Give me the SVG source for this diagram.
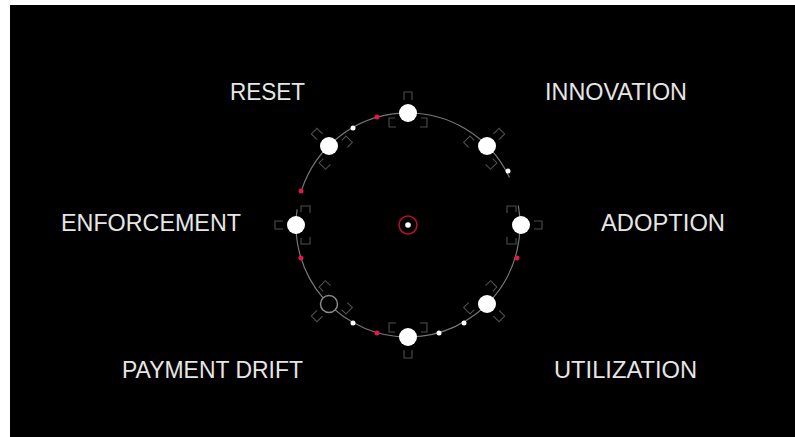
<svg xmlns="http://www.w3.org/2000/svg" xmlns:xlink="http://www.w3.org/1999/xlink" width="795" height="437" viewBox="0 0 795 437">
<style>
.lbl{font-family:"Liberation Sans","Noto Sans",Arial,sans-serif;font-size:24px;fill:#e6e6e6;}
.node{fill:#ffffff;}
.hollow{fill:#000;stroke:#8a8a8a;stroke-width:1.5;}
.br{fill:none;stroke:#4e4e4e;stroke-width:1.1;}
.ring{fill:none;stroke:#777777;stroke-width:1.2;}
.dw{fill:#ffffff;}
.dr{fill:#e0184a;}
</style>
<defs>
<g id="brk">
<path class="br" d="M-4,-13 L-4,-21 L4,-21 L4,-13"/>
<path class="br" d="M-13,5 L-19,5 L-19,14 L-12,14"/>
<path class="br" d="M13,5 L19,5 L19,14 L12,14"/>
</g>
</defs>
<rect x="0" y="0" width="795" height="437" fill="#ffffff"/>
<rect x="10" y="5" width="785" height="432" fill="#000000"/>
<g id="connectors">
<path class="ring" d="M518.3,205.5 A112,112 0 1 1 297.1,209.4"/>
<path class="ring" d="M301.5,190.4 A112,112 0 0 1 509.5,177.6"/>
<circle class="dw" cx="353" cy="128" r="2.5"/>
<circle class="dr" cx="377" cy="117" r="2.5"/>
<circle class="dw" cx="508" cy="171" r="2.5"/>
<circle class="dr" cx="301" cy="191" r="2.5"/>
<circle class="dr" cx="301" cy="258" r="2.5"/>
<circle class="dr" cx="517" cy="258" r="2.5"/>
<circle class="dr" cx="377" cy="333" r="2.5"/>
<circle class="dw" cx="439" cy="333" r="2.5"/>
<circle class="dw" cx="464" cy="323" r="2.5"/>
<circle class="dw" cx="353" cy="323" r="2.5"/>
</g>
<g id="center">
<circle cx="408" cy="225" r="9" fill="none" stroke="#b0102e" stroke-width="1.6"/>
<circle cx="408" cy="225" r="2.8" fill="#ffffff"/>
</g>
<g id="node-top" transform="translate(408,113) rotate(0)"><use xlink:href="#brk"/><circle class="node" r="9"/></g>
<g id="node-innovation" transform="translate(487,146) rotate(45)"><use xlink:href="#brk"/><circle class="node" r="9"/></g>
<g id="node-adoption" transform="translate(521,225) rotate(90)"><use xlink:href="#brk"/><circle class="node" r="9"/></g>
<g id="node-utilization" transform="translate(487,304) rotate(135)"><use xlink:href="#brk"/><circle class="node" r="9"/></g>
<g id="node-bottom" transform="translate(408,337) rotate(180)"><use xlink:href="#brk"/><circle class="node" r="9"/></g>
<g id="node-payment-drift" transform="translate(329,304) rotate(225)"><use xlink:href="#brk"/><circle class="hollow" r="8.5"/></g>
<g id="node-enforcement" transform="translate(296,225) rotate(270)"><use xlink:href="#brk"/><circle class="node" r="9"/></g>
<g id="node-reset" transform="translate(329,146) rotate(315)"><use xlink:href="#brk"/><circle class="node" r="9"/></g>
<g id="labels">
<text class="lbl" x="230" y="100" textLength="75" lengthAdjust="spacingAndGlyphs">RESET</text>
<text class="lbl" x="545" y="100" textLength="142" lengthAdjust="spacingAndGlyphs">INNOVATION</text>
<text class="lbl" x="61" y="231" textLength="180" lengthAdjust="spacingAndGlyphs">ENFORCEMENT</text>
<text class="lbl" x="601" y="231" textLength="124" lengthAdjust="spacingAndGlyphs">ADOPTION</text>
<text class="lbl" x="122" y="378" textLength="181" lengthAdjust="spacingAndGlyphs">PAYMENT DRIFT</text>
<text class="lbl" x="554" y="378" textLength="143" lengthAdjust="spacingAndGlyphs">UTILIZATION</text>
</g>
</svg>
